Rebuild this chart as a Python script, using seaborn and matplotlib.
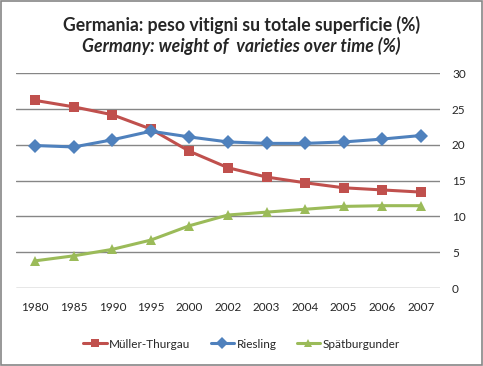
import pandas as pd
import numpy as np
import matplotlib
matplotlib.use("Agg")
import matplotlib.pyplot as plt
import seaborn as sns

years = ["1980", "1985", "1990", "1995", "2000", "2002", "2003", "2004", "2005", "2006", "2007"]
muller = [26.2, 25.3, 24.2, 22.2, 19.1, 16.8, 15.5, 14.7, 14.0, 13.7, 13.4]
riesling = [19.9, 19.7, 20.7, 21.9, 21.1, 20.4, 20.2, 20.2, 20.4, 20.8, 21.3]
spat = [3.8, 4.5, 5.4, 6.7, 8.7, 10.2, 10.6, 11.0, 11.4, 11.5, 11.5]
varieties = ["Müller-Thurgau", "Riesling", "Spätburgunder"]
yticks = [0, 5, 10, 15, 20, 25, 30]

sns.set_style("white")
plt.rcParams['font.family'] = ['Lato', 'DejaVu Sans']

df = pd.DataFrame({
    "pos": list(range(len(years))) * 3,
    "value": muller + riesling + spat,
    "variety": [v for v in varieties for _ in years],
})

palette = {"Müller-Thurgau": "#C0504D", "Riesling": "#4F81BD", "Spätburgunder": "#9BBB59"}
markers = {"Müller-Thurgau": "s", "Riesling": "D", "Spätburgunder": "^"}

fig = plt.figure(figsize=(4.83, 3.66), dpi=100)
ax = fig.add_axes([0.033, 0.213, 0.878, 0.587])

sns.lineplot(data=df, x="pos", y="value", hue="variety", style="variety",
             palette=palette, markers=markers, dashes=False, linewidth=2.2,
             markersize=7, markeredgewidth=0, ax=ax, legend=False)

ax.set_xlim(-0.5, len(years) - 0.5)
ax.set_ylim(0, 30)
ax.set_xticks(range(len(years)))
ax.set_xticklabels(years)
ax.set_yticks(yticks)
ax.yaxis.tick_right()
ax.grid(axis="y", color="#868686", linewidth=1)
ax.set_axisbelow(True)
for s in ax.spines.values():
    s.set_visible(False)
ax.tick_params(axis="both", length=0, labelsize=8.5, pad=10)
ax.tick_params(axis="y", pad=8.6)
ax.set_xlabel("")
ax.set_ylabel("")

handles = [plt.Line2D([], [], color=palette[v], marker=markers[v], linewidth=2.2,
                      markersize=6, markeredgewidth=0) for v in varieties]
fig.legend(handles, varieties, loc="center", bbox_to_anchor=(0.5, 0.06), ncol=3,
           frameon=False, fontsize=8.5, handlelength=2.0, columnspacing=1.7,
           handletextpad=0.2)

fig.text(0.5, 0.933, "Germania: peso vitigni su totale superficie (%)", ha="center",
         va="center", fontsize=12.7, fontweight="bold")
fig.text(0.5, 0.875, "Germany: weight of  varieties over time (%)", ha="center",
         va="center", fontsize=12.7, fontweight="bold", style="italic")

fig.patches.append(plt.Rectangle((0.002, 0.003), 0.995, 0.993, transform=fig.transFigure,
                                 fill=False, edgecolor="#868686", linewidth=1.2))

plt.savefig("out.png", dpi=100)
